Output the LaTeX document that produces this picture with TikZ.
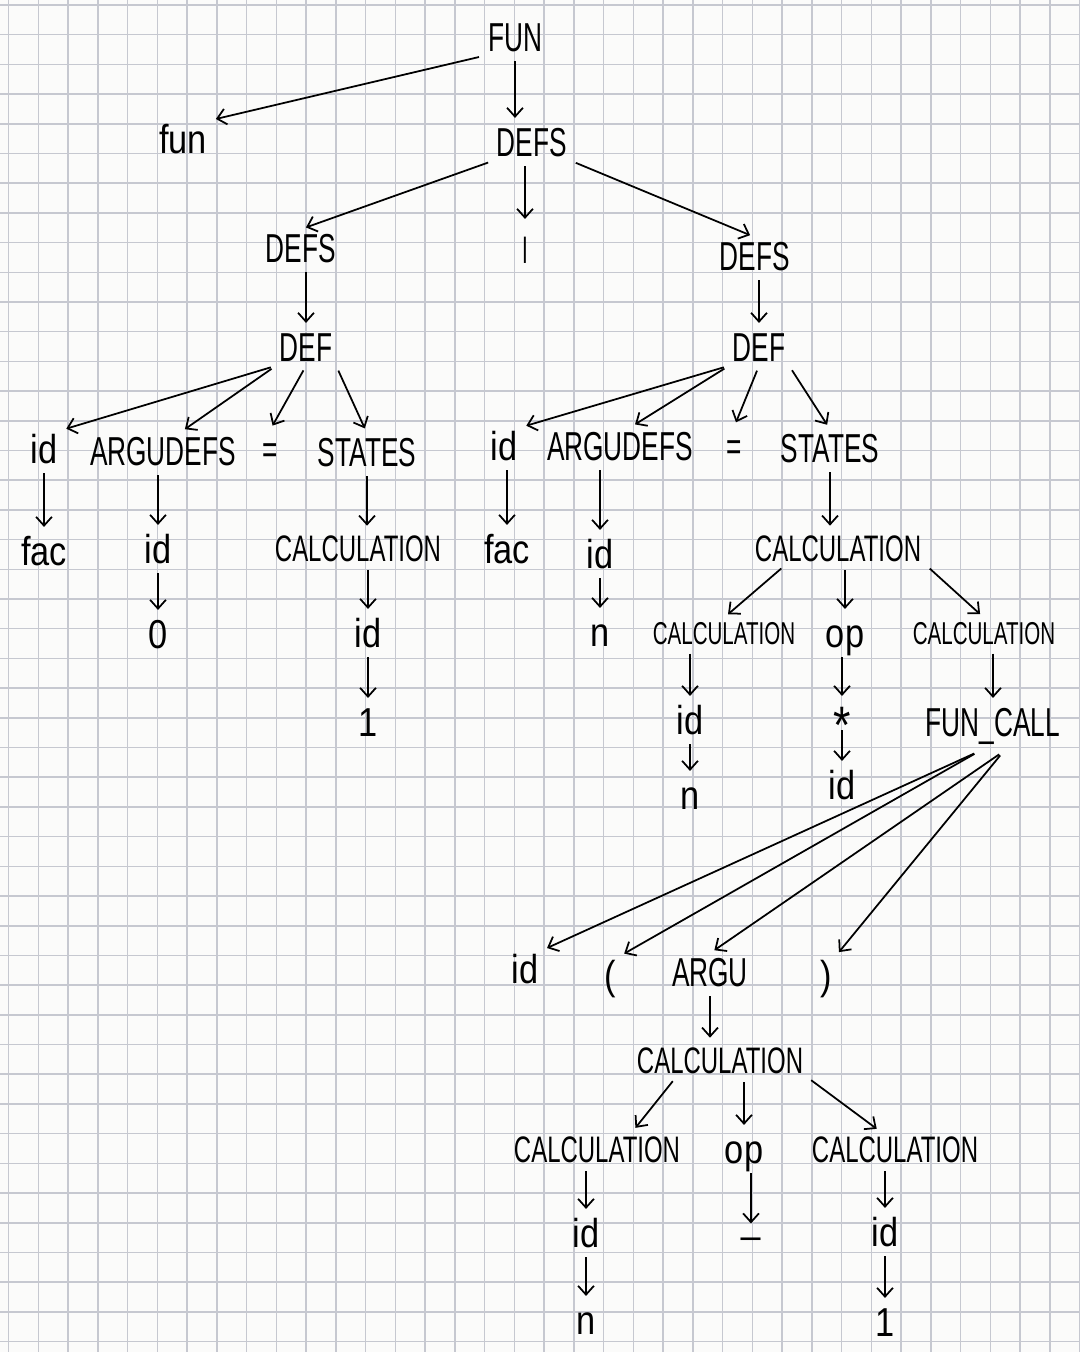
\documentclass[tikz,border=0pt]{standalone}
\usepackage{fontspec}
\usetikzlibrary{arrows.meta}
\newfontfamily\hand[FakeStretch=0.65]{Liberation Sans}
\newfontfamily\handlc[FakeStretch=0.85]{Liberation Sans}
\definecolor{paper}{HTML}{FBFBFA}
\definecolor{gridgray}{HTML}{C6C8D0}

\begin{document}
\begin{tikzpicture}[x=0.02cm,y=-0.02cm]
\tikzset{
  every node/.style={inner sep=2pt, text height=17pt, text depth=0pt, font=\hand\fontsize{23}{26}\selectfont},
  lc/.style={font=\handlc\fontsize{23}{26}\selectfont},
  calc/.style={font=\hand\fontsize{21}{25}\selectfont, text height=15pt},
  calcsm/.style={font=\hand\fontsize{18}{21}\selectfont, text height=13pt},
  arr/.style={line width=1pt, shorten <=3pt, shorten >=3pt, -{Straight Barb[length=5pt,width=9pt]}},
  gridline/.style={draw=gridgray, line width=0.9pt}
}
\useasboundingbox (0,0) rectangle (1080,1352);
% squared paper
\fill[paper] (0,0) rectangle (1080,1352);
\foreach \i in {0,...,36} \draw[gridline] ({8.6+29.75*\i},0) -- ({8.6+29.75*\i},1352);
\foreach \j in {0,...,45} \draw[gridline] (0,{5+29.7*\j}) -- (1080,{5+29.7*\j});

% top of the tree
\node (fun0) at (515,37) {FUN};
\node[lc] (fun1) at (183,139) {fun};
\node (defs0) at (532,142) {DEFS};
\node (defsL) at (301,248) {DEFS};
\node[lc, font=\handlc\fontsize{16}{18}\selectfont] (bar) at (525,243) {|};
\node (defsR) at (755,256) {DEFS};
\node (defL) at (306,347) {DEF};
\node (defR) at (759,347) {DEF};

% left definition
\node[lc] (idL) at (44,449) {id};
\node (argL) at (163,451) {ARGUDEFS};
\node (eqL) at (270,449) {=};
\node (stL) at (367,452) {STATES};
\node[lc] (facL) at (44,551) {fac};
\node[lc] (idL2) at (158,549) {id};
\node[calc] (calcL) at (358,548) {CALCULATION};
\node[lc] (zeroL) at (158,634) {0};
\node[lc] (idL3) at (368,633) {id};
\node[lc] (oneL) at (368,722) {1};

% right definition
\node[lc] (idR) at (504,446) {id};
\node (argR) at (620,446) {ARGUDEFS};
\node (eqR) at (734,446) {=};
\node (stR) at (830,448) {STATES};
\node[lc] (facR) at (507,549) {fac};
\node[lc] (idR2) at (600,554) {id};
\node[calc] (calcR) at (838,548) {CALCULATION};
\node[lc] (nR) at (600,632) {n};
\node[calcsm] (calcRa) at (724,633) {CALCULATION};
\node[lc] (opR) at (845,633) {op};
\node[calcsm] (calcRb) at (984,633) {CALCULATION};
\node[lc] (idRa) at (690,720) {id};
\node[lc, font=\handlc\fontsize{30}{32}\selectfont, text height=9pt] (star) at (842,713) {\raisebox{-13pt}{*}};
\node (fcall) at (993,722) {FUN\_CALL};
\node[lc] (nRa) at (690,795) {n};
\node[lc] (idRb) at (842,785) {id};

% function call
\node[lc] (idF) at (525,969) {id};
\node[lc] (lpar) at (610,975) {(};
\node (argu) at (710,972) {ARGU};
\node[lc] (rpar) at (826,975) {)};
\node[calc] (calcA) at (720,1060) {CALCULATION};
\node[calc] (calcB1) at (597,1149) {CALCULATION};
\node[lc] (opB) at (744,1149) {op};
\node[calc] (calcB2) at (895,1149) {CALCULATION};
\node[lc] (idB1) at (586,1233) {id};
\node[lc, text height=0pt, text depth=5pt] (under) at (751,1237) {\_};
\node[lc] (idB2) at (885,1232) {id};
\node[lc] (nB) at (586,1320) {n};
\node[lc] (oneB) at (885,1322) {1};

% edges
\draw[arr] (fun0.south west) -- (fun1.north east);
\draw[arr] (fun0.south) -- (fun0.south |- defs0.north);
\draw[arr] (defs0.south west) -- (defsL.north);
\draw[arr] (bar |- defs0.south) -- (bar);
\draw[arr] (defs0.south east) -- (defsR.north);
\draw[arr] (defL |- defsL.south) -- (defL);
\draw[arr] (defR |- defsR.south) -- (defR);

\draw[arr] (defL.south west) -- (idL.north east);
\draw[arr] (defL.south west) -- ([xshift=10pt]argL.north);
\draw[arr] (defL.south) -- (eqL.north);
\draw[arr] (defL.south east) -- (stL.north);
\draw[arr] (facL |- idL.south) -- (facL);
\draw[arr] (idL2 |- argL.south) -- (idL2);
\draw[arr] (stL.south) -- (stL.south |- calcL.north);
\draw[arr] (idL2) -- (zeroL);
\draw[arr] (idL3 |- calcL.south) -- (idL3);
\draw[arr] (idL3) -- (oneL);

\draw[arr] (defR.south west) -- (idR.north east);
\draw[arr] (defR.south west) -- ([xshift=6pt]argR.north);
\draw[arr] (defR.south) -- (eqR.north);
\draw[arr] (defR.south east) -- (stR.north);
\draw[arr] (facR |- idR.south) -- (facR);
\draw[arr] (idR2 |- argR.south) -- (idR2);
\draw[arr] (stR.south) -- (stR.south |- calcR.north);
\draw[arr] (idR2) -- (nR);
\draw[arr] ([xshift=-30pt]calcR.south) -- (calcRa.north);
\draw[arr] (opR |- calcR.south) -- (opR);
\draw[arr] ([xshift=50pt]calcR.south) -- (calcRb.north);
\draw[arr] (idRa |- calcRa.south) -- (idRa);
\draw[arr] (idRa) -- (nRa);
\draw[arr] (star |- opR.south) -- (star);
\draw[arr] (star) -- (idRb);
\draw[arr] (fcall |- calcRb.south) -- (fcall);

\draw[arr] ([xshift=-8pt,yshift=-6pt]fcall.south) -- (idF.north east);
\draw[arr] ([xshift=-8pt,yshift=-6pt]fcall.south) -- (lpar.north east);
\draw[arr] ([xshift=6pt,yshift=-6pt]fcall.south) -- (argu.north);
\draw[arr] ([xshift=6pt,yshift=-6pt]fcall.south) -- (rpar.north east);
\draw[arr] (argu.south) -- (argu.south |- calcA.north);
\draw[arr] ([xshift=-25pt]calcA.south) -- ([xshift=20pt]calcB1.north);
\draw[arr] (opB |- calcA.south) -- (opB);
\draw[arr] (calcA.south east) -- ([xshift=-8pt]calcB2.north);
\draw[arr] (idB1 |- calcB1.south) -- (idB1);
\draw[arr] (idB1) -- (nB);
\draw[arr] (under |- opB.south) -- (under);
\draw[arr] (idB2 |- calcB2.south) -- (idB2);
\draw[arr] (idB2) -- (oneB);
\end{tikzpicture}
\end{document}
